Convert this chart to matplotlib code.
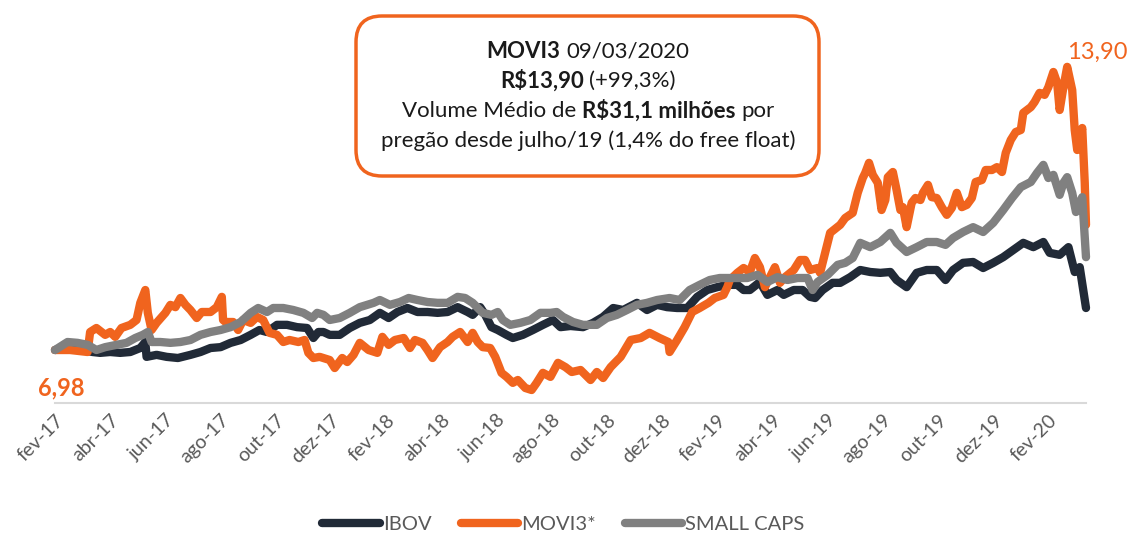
import matplotlib
matplotlib.use("Agg")
import matplotlib.pyplot as plt
from matplotlib.patches import FancyBboxPatch
from matplotlib.transforms import IdentityTransform

plt.rcParams['font.family'] = ['Lato', 'DejaVu Sans']

# eixo x: pregões desde fev-17 (um rótulo a cada 44 pregões)
rotulos_x = ['fev-17', 'abr-17', 'jun-17', 'ago-17', 'out-17', 'dez-17',
             'fev-18', 'abr-18', 'jun-18', 'ago-18', 'out-18', 'dez-18',
             'fev-19', 'abr-19', 'jun-19', 'ago-19', 'out-19', 'dez-19', 'fev-20']
passo_rotulo = 44
ultimo_pregao = 822

# IBOV (base 100)
ibov_x = [0, 12, 22, 30, 36, 44, 52, 60, 68, 72, 73, 81, 89, 98, 108, 116, 124, 132, 140, 148,
          156, 163, 169, 177, 185, 193, 201, 206, 210, 214, 219, 227, 235, 243, 251, 259, 266, 273,
          281, 289, 297, 305, 313, 321, 329, 333, 339, 343, 348, 353, 360, 365, 373, 381, 389, 397,
          403, 411, 421, 429, 437, 445, 453, 464, 472, 480, 488, 496, 504, 512, 520, 528, 536, 544,
          549, 554, 562, 568, 576, 581, 589, 596, 602, 606, 612, 620, 626, 634, 642, 650, 658, 666,
          671, 679, 687, 695, 703, 710, 716, 724, 732, 740, 748, 756, 764, 772, 780, 788, 793, 801,
          808, 813, 817, 822]
ibov_y = [100, 101, 100, 99.3, 99, 99.3, 99, 99.3, 100.7, 102.8, 97.6, 98.3, 97.6, 97.2, 98.3,
          99.3, 100.7, 101, 102.5, 103.5, 105.3, 107, 106.3, 108.8, 108.8, 108, 107.7, 104.2, 106.3,
          106.3, 105.3, 105.3, 107.7, 109.5, 110.5, 113, 111.2, 113.3, 114.7, 113.3, 113.3, 113,
          113.3, 115, 113.3, 112.3, 115, 112.3, 108, 107, 105.3, 104.2, 105.3, 107, 108.8, 110.5,
          108, 108.4, 108, 109.5, 111.6, 114.7, 114, 116.5, 114, 115.8, 115, 114.7, 114.7, 118.6,
          121, 122, 122.8, 122.8, 121, 121, 123.8, 119.3, 121, 119.3, 121, 121, 118.6, 118.2, 121,
          123.5, 123.5, 125.5, 128, 127.3, 127, 127.3, 124.5, 122, 127, 128, 128, 124.5, 128, 130.5,
          130.8, 128.7, 130.5, 132.5, 135, 137.5, 136, 137.8, 134, 133.3, 136, 127.3, 129, 114.7]

# MOVI3* (base 100 = R$6,98)
movi_x = [0, 12, 26, 28, 33, 40, 44, 48, 53, 60, 65, 68, 72, 74, 77, 81, 88, 92, 96, 100, 104,
          108, 113, 117, 124, 129, 133, 134, 136, 142, 146, 150, 156, 161, 166, 171, 177, 182, 187,
          194, 199, 202, 206, 211, 219, 223, 229, 233, 238, 243, 250, 257, 261, 266, 271, 278, 283,
          287, 293, 297, 301, 307, 313, 317, 323, 329, 333, 337, 341, 347, 351, 356, 360, 365, 369,
          375, 380, 384, 389, 395, 401, 407, 412, 419, 427, 432, 437, 443, 451, 459, 467, 474, 482,
          489, 490, 496, 502, 508, 514, 521, 526, 533, 536, 538, 544, 549, 554, 558, 562, 566, 570,
          574, 578, 582, 589, 594, 598, 602, 608, 610, 614, 618, 626, 630, 636, 640, 644, 646, 649,
          652, 656, 659, 662, 664, 668, 671, 674, 676, 679, 683, 686, 690, 692, 696, 699, 703, 707,
          711, 715, 719, 723, 727, 731, 734, 739, 742, 747, 751, 755, 758, 762, 766, 770, 772, 778,
          781, 785, 789, 792, 796, 799, 801, 804, 807, 811, 813, 815, 819, 821, 822]
movi_y = [100, 100, 99.3, 106.3, 107.7, 105.3, 106.3, 104.6, 107.7, 108.8, 110.5, 116.5, 121,
          113, 107, 109.5, 113, 115.8, 115, 118.2, 115.8, 114, 111.2, 113.3, 113.3, 115, 118.6,
          110.5, 109.8, 109.8, 107, 110.5, 109.5, 111.6, 110.5, 106, 105.3, 102.8, 103.5, 102.8,
          103.5, 99, 97.2, 97.6, 96.5, 93.7, 97.2, 95.8, 98.3, 102.5, 100, 99, 104.6, 101.8, 103.5,
          104.2, 100.7, 103.5, 102.5, 100, 97.2, 101, 102.8, 104.6, 106.3, 102.8, 106, 102.8, 101,
          100.7, 97.6, 92, 90.6, 88.5, 89.5, 86.7, 86, 88.5, 92, 90.6, 95.5, 94, 92.3, 93, 89.5,
          92.3, 90.2, 94, 97.6, 103.5, 104.2, 106, 104.2, 102.8, 99.3, 103.5, 108, 113.3, 114.7,
          116.5, 118.2, 119.3, 122, 124.5, 127, 128.7, 127.3, 132.2, 129, 122, 125.5, 129, 123.5,
          125.5, 128, 131.5, 131.5, 128, 128.7, 127, 134, 141, 143.8, 146.2, 148, 155, 160.2, 162,
          165.5, 161.3, 158.5, 149, 152.5, 160.5, 162.3, 156, 149, 150, 143, 151.5, 153.2, 152.5,
          155, 157.8, 153.5, 153.2, 150, 147.3, 149.7, 155, 150, 150.8, 153.2, 158.8, 159.5, 163,
          163, 164, 162.3, 169, 173.5, 176.3, 177, 183, 185, 186.8, 190, 189.3, 192, 197.3, 193.5,
          184, 192, 199.1, 191, 177, 170, 177.7, 158.5, 143.8]

# SMALL CAPS (base 100)
small_x = [0, 10, 18, 26, 33, 40, 49, 57, 64, 70, 74, 77, 84, 92, 100, 108, 116, 124, 132, 140,
           148, 156, 162, 169, 174, 182, 190, 198, 205, 209, 214, 219, 227, 235, 243, 254, 259, 267,
           275, 282, 289, 297, 305, 313, 321, 327, 333, 341, 348, 353, 357, 363, 371, 379, 387, 395,
           400, 405, 413, 421, 432, 440, 448, 456, 464, 472, 480, 490, 498, 506, 514, 522, 530, 544,
           552, 560, 568, 576, 584, 592, 600, 604, 608, 616, 624, 630, 636, 642, 650, 658, 666, 671,
           679, 687, 695, 703, 710, 716, 724, 732, 740, 748, 756, 763, 770, 778, 783, 788, 792, 796,
           801, 804, 807, 811, 814, 819, 822]
small_y = [100, 102.8, 102.5, 101.8, 100, 101, 101.8, 102.5, 104.2, 105.3, 106.3, 102.8, 102.8,
           102.5, 102.8, 103.5, 105.3, 106.3, 107, 108, 109.8, 113, 114.7, 113.3, 114.7, 114.7,
           114, 113, 111.2, 113, 112.3, 110.5, 111.2, 113, 115, 116.5, 117.5, 115.8, 116.8, 118.2,
           117.5, 116.8, 116.5, 116.5, 118.6, 118.2, 116.5, 113, 112.3, 113.3, 110.5, 108.8, 109.5,
           110.5, 113, 113, 113.3, 111.6, 109.8, 108.8, 108.8, 111.2, 112.3, 114, 115.8, 116.5,
           117.5, 118.2, 117.5, 121, 122.8, 124.5, 125.2, 125.2, 125.2, 126.3, 123.8, 125.5, 124.5,
           125.2, 125.2, 121, 123.8, 126.3, 129.8, 130.5, 132.2, 137.5, 136, 137.8, 141, 137.5,
           134.3, 136, 137.8, 137.8, 136.8, 139.2, 141.3, 143, 141.3, 144.5, 149, 153.2, 157, 158.8,
           162, 164.8, 160.2, 161.3, 154.3, 158.5, 160.5, 155, 148.3, 153.5, 132.5]

cor_ibov = '#212a37'
cor_movi = '#f0641e'
cor_small = '#808080'

W, H = 1127, 536
fig = plt.figure(figsize=(W / 100, H / 100), dpi=100)
ax = fig.add_axes([55 / W, (H - 403) / H, 1031 / W, 383 / H])

lw = 6
ax.plot(ibov_x, ibov_y, color=cor_ibov, lw=lw, solid_capstyle='round', solid_joinstyle='round',
        label='IBOV', clip_on=False)
ax.plot(movi_x, movi_y, color=cor_movi, lw=lw, solid_capstyle='round', solid_joinstyle='round',
        label='MOVI3*', clip_on=False)
ax.plot(small_x, small_y, color=cor_small, lw=lw, solid_capstyle='round', solid_joinstyle='round',
        label='SMALL CAPS', clip_on=False)

ax.set_xlim(0, ultimo_pregao)
ax.set_ylim(81.45, 215.5)
ax.set_yticks([])
ax.set_xticks([i * passo_rotulo for i in range(len(rotulos_x))])
ax.set_xticklabels(rotulos_x, rotation=45, ha='right', va='top', rotation_mode='anchor',
                   fontsize=14, color='#595959')
ax.tick_params(axis='x', length=0, pad=6)
for lado in ['top', 'right', 'left']:
    ax.spines[lado].set_visible(False)
ax.spines['bottom'].set_color('#d9d9d9')
ax.spines['bottom'].set_linewidth(1.5)

# valores inicial e final da MOVI3
ax.text(-13.5, 86.7, '6,98', color=cor_movi, fontsize=17, fontweight='bold', ha='left', va='center')
ax.text(807, 204.3, '13,90', color=cor_movi, fontsize=17, ha='left', va='center')

# legenda
leg = fig.legend(loc='center', bbox_to_anchor=(0.5, 1 - 524 / H), ncol=3, frameon=False,
                 fontsize=14.5, handlelength=2.85, handletextpad=0.15, columnspacing=1.45)
for t in leg.get_texts():
    t.set_color('#595959')
for l in leg.get_lines():
    l.set_linewidth(6)

# caixa de destaque
caixa = FancyBboxPatch((356, H - 176), 463, 160, boxstyle='round,pad=0,rounding_size=26',
                       transform=IdentityTransform(), facecolor='white', edgecolor=cor_movi,
                       linewidth=2.5)
fig.add_artist(caixa)

renderer = fig.canvas.get_renderer()


def linha_rica(partes, xc, y, tam=16):
    textos = []
    for txt, peso in partes:
        textos.append(fig.text(0, 0, txt, fontsize=tam, fontweight=peso, color='#1a1a1a',
                               ha='left', va='center'))
    larguras = [t.get_window_extent(renderer).width for t in textos]
    a = fig.text(0, 0, 'a a', fontsize=tam)
    b = fig.text(0, 0, 'aa', fontsize=tam)
    espaco = a.get_window_extent(renderer).width - b.get_window_extent(renderer).width
    a.remove()
    b.remove()
    total = sum(larguras) + espaco * (len(textos) - 1)
    x = xc - total / 2
    for t, w in zip(textos, larguras):
        t.set_position((x / W, 1 - y / H))
        x += w + espaco


linha_rica([('MOVI3', 'bold'), ('09/03/2020', 'normal')], 588, 51)
linha_rica([('R\\$13,90', 'bold'), ('(+99,3%)', 'normal')], 588, 81)
linha_rica([('Volume Médio de', 'normal'), ('R\\$31,1 milhões', 'bold'), ('por', 'normal')], 588, 111)
linha_rica([('pregão desde julho/19 (1,4% do free float)', 'normal')], 588, 141)

fig.savefig('out.png', dpi=100)
